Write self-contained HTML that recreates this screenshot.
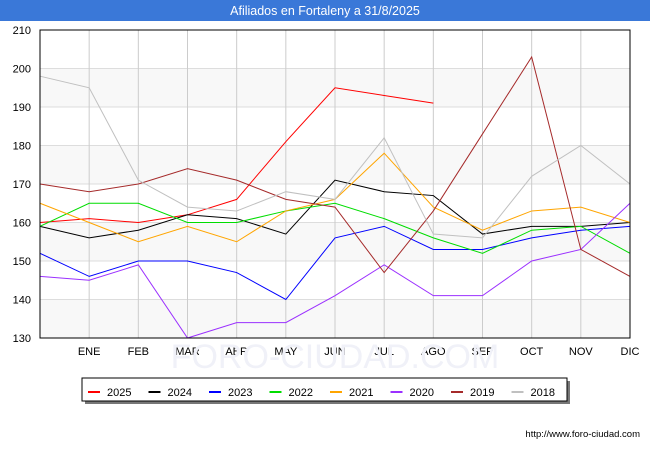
<!DOCTYPE html>
<html><head><meta charset="utf-8"><style>
body{margin:0;background:#fff;font-family:"Liberation Sans",sans-serif}
</style></head><body>
<svg width="650" height="450" xmlns="http://www.w3.org/2000/svg">
<rect x="0" y="0" width="650" height="21" fill="#3a78d8"/>
<text x="325" y="15" text-anchor="middle" fill="#fff" font-size="12.5">Afiliados en Fortaleny a 31/8/2025</text>
<g id="grid"></g>
<text x="335" y="368" text-anchor="middle" font-size="34" fill="#f0f1f8">FORO-CIUDAD.COM</text>
<g id="series"></g>
<rect x="40" y="30" width="590" height="308" fill="none" stroke="#000"/>
<g id="legend"></g>
<text x="640" y="437" text-anchor="end" font-size="9.5" fill="#000">http://www.foro-ciudad.com</text>
</svg>
<script>
const months=["","ENE","FEB","MAR","ABR","MAY","JUN","JUL","AGO","SEP","OCT","NOV","DIC"];
const yTicks=[130,140,150,160,170,180,190,200,210];
const years=["2025","2024","2023","2022","2021","2020","2019","2018"];
const colors=["#ff0000","#000000","#0000ff","#00dd00","#ffa500","#9b30ff","#a52a2a","#c0c0c0"];
const s2025=[160,161,160,162,166,181,195,193,191];
const s2024=[159,156,158,162,161,157,171,168,167,157,159,159,160];
const s2023=[152,146,150,150,147,140,156,159,153,153,156,158,159];
const s2022=[159,165,165,160,160,163,165,161,156,152,158,159,152];
const s2021=[165,160,155,159,155,163,166,178,164,158,163,164,160];
const s2020=[146,145,149,130,134,134,141,149,141,141,150,153,165];
const s2019=[170,168,170,174,171,166,164,147,163,183,203,153,146];
const s2018=[198,195,171,164,163,168,166,182,157,156,172,180,170];
const data=[s2025,s2024,s2023,s2022,s2021,s2020,s2019,s2018];
const NS="http://www.w3.org/2000/svg";
const x=i=>40+i*590/12, y=v=>338-(v-130)*308/80;
function mk(t,a,p){const e=document.createElementNS(NS,t);for(const k in a)e.setAttribute(k,a[k]);p.appendChild(e);return e;}
const g=document.getElementById('grid');
for(let i=0;i<yTicks.length-1;i+=2){const r=mk('rect',{x:40,y:y(yTicks[i+1]),width:590,height:y(yTicks[i])-y(yTicks[i+1]),fill:'#f8f8f8'},g);

}
yTicks.forEach(v=>{const l=mk('line',{x1:40,x2:630,y1:y(v),y2:y(v),stroke:'#ddd'},g);


const t=mk('text',{x:31,y:y(v)+4,'text-anchor':'end','font-size':11},g);t.textContent=v;

});
months.forEach((m,i)=>{if(i==0)return;const l=mk('line',{x1:x(i),x2:x(i),y1:30,y2:338,stroke:'#ccc'},g);


const t=mk('text',{x:x(i),y:355,'text-anchor':'middle','font-size':11},g);t.textContent=m;

});
const sg=document.getElementById('series');
data.forEach((d,k)=>{const p=mk('polyline',{points:d.map((v,i)=>x(i)+','+y(v)).join(' '),fill:'none',stroke:colors[k],'stroke-width':1},sg);

});
const lg=document.getElementById('legend');
const sh=mk('rect',{x:85,y:381,width:485,height:23,fill:'#777'},lg);


const lb=mk('rect',{x:82,y:378,width:485,height:23,fill:'#fff',stroke:'#000'},lg);


years.forEach((yr,k)=>{const bx=88+k*60.5;
const l=mk('line',{x1:bx,x2:bx+12,y1:392,y2:392,stroke:colors[k],'stroke-width':2},lg);


const t=mk('text',{x:bx+19,y:396,'font-size':11},lg);t.textContent=yr;

});
</script>
</body></html>
